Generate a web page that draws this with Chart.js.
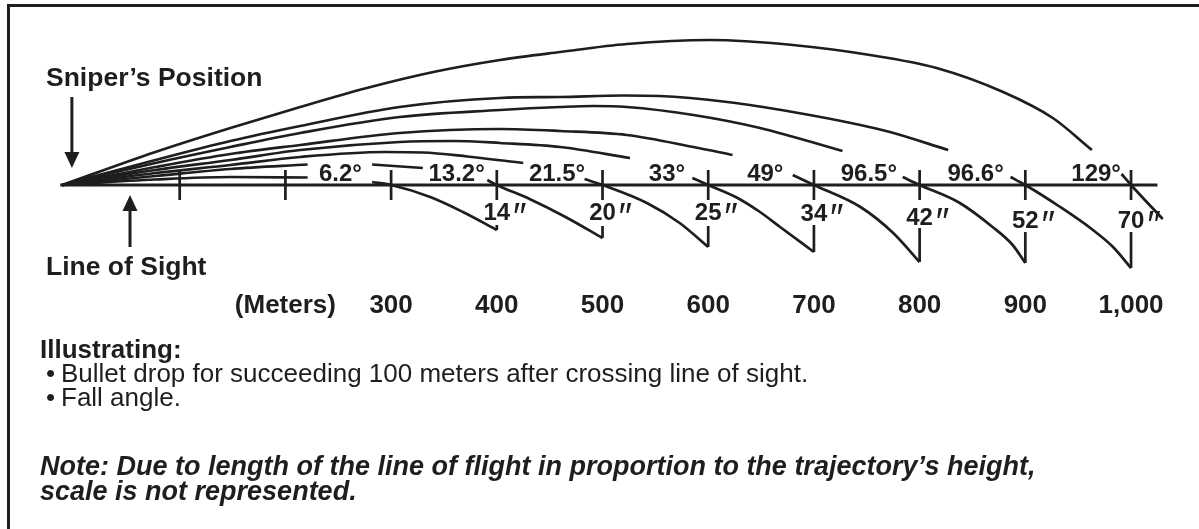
<!DOCTYPE html>
<html>
<head>
<meta charset="utf-8">
<script src="https://cdn.jsdelivr.net/npm/chart.js@4.4.1/dist/chart.umd.min.js"></script>
<style>
html,body{margin:0;padding:0;background:#fff;}
#wrap{position:relative;width:1199px;height:529px;overflow:hidden;background:#fff;
  font-family:"Liberation Sans",Arial,Helvetica,sans-serif;color:#1e1e1e;}
#frame{position:absolute;left:7px;top:4px;width:1400px;height:800px;
  border-top:3px solid #1e1e1e;border-left:3px solid #1e1e1e;}
#cv{position:absolute;left:0;top:0;width:1199px;height:529px;}
.t{position:absolute;white-space:nowrap;font-size:26px;line-height:26px;}
.b{font-weight:bold;}
.h{font-weight:bold;font-size:26.5px;}
.bi{font-weight:bold;font-style:italic;font-size:27px;}
.bul{display:inline-block;width:15px;}
</style>
</head>
<body>
<div id="wrap">
  <div id="frame"></div>
  <div id="cv"><canvas id="c"></canvas></div>
  <div class="t h" style="left:46px;top:64px">Sniper’s Position</div>
  <div class="t h" style="left:46px;top:253px">Line of Sight</div>
  <div class="t b" style="left:40px;top:336px">Illustrating:</div>
  <div class="t" style="left:46px;top:360px"><span class="bul">•</span>Bullet drop for succeeding 100 meters after crossing line of sight.</div>
  <div class="t" style="left:46px;top:384px"><span class="bul">•</span>Fall angle.</div>
  <div class="t bi" style="left:40px;top:453px">Note: Due to length of the line of flight in proportion to the trajectory’s height,</div>
  <div class="t bi" style="left:40px;top:478px">scale is not represented.</div>
</div>
<script>
// ---------- data (range in meters, height in drawing units above line of sight) ----------
const crossRanges = [300, 400, 500, 600, 700, 800, 900, 1000];
const fallAngles  = ['6.2°', '13.2°', '21.5°', '33°', '49°', '96.5°', '96.6°', '129°'];
const dropRanges  = [400, 500, 600, 700, 800, 900, 1000];
const dropInches  = ['14', '20', '25', '34', '42', '52', '70'];
const dropDepth   = [-45, -53, -62, -67, -77, -78, -83];
const tickValues  = [200, 300, 400, 500, 600, 700, 800, 900, 1000];
const tickLabels  = ['(Meters)', '300', '400', '500', '600', '700', '800', '900', '1,000'];
const sightMarks  = [100, 200, 300, 400, 500, 600, 700, 800, 900, 1000];
const sightLine   = [[-13, 0], [1025, 0]];

// trajectories; a null height = hidden behind a label
const traj300  = [[-11,0],[77,5.5],[148,8],[221,7.5],[250,null],[282,3],[300,0],[337,-12],[368,-27],[400,-45]];
const traj400  = [[-11,0],[77,9],[148,16],[221,20.5],[250,null],[282,20.5],[330,17],[360,null],[391,5],[400,0],[431,-14],[465,-32],[500,-53]];
const traj500  = [[-11,0],[77,12],[148,20],[214,28],[294,33],[330,32.5],[372,28.5],[425,22],[455,null],[483,6],[500,0],[542,-18],[573,-38],[600,-62]];
const traj600  = [[-11,0],[77,15],[148,25],[214,35],[308,43],[358,44],[403,42],[460,38],[526,27],[555,null],[585,7],[600,0],[626,-12],[649,-27],[668,-42],[700,-67]];
const traj700  = [[-11,0],[77,18],[148,31],[214,40],[308,52],[403,56],[460,54],[523,50],[586,38],[623,30],[650,null],[680,10],[700,0],[744,-22],[775,-48],[800,-77]];
const traj800  = [[-11,0],[77,22],[148,38],[214,52],[308,68],[403,75],[460,78],[491,79],[523,78],[586,70],[649,57],[727,34],[755,null],[784,8],[800,0],[838,-18],[869,-42],[888,-60],[900,-78]];
const traj900  = [[-11,0],[77,25],[148,44],[214,59],[308,78],[403,87],[460,88],[520,89.5],[554,89],[618,83],[680,73],[744,60],[772,53],[827,35],[855,null],[886,8],[900,0],[933,-22],[964,-45],[983,-62],[1000,-83]];
const traj1000 = [[-11,0],[77,33],[148,57],[214,78],[277,97],[340,113],[403,125],[460,133],[523,141],[602,145],[680,140],[753,130],[816,117],[879,93],[926,67],[963,35],[978,null],[991,11],[1000,0],[1030,-34]];
const trajectories = [traj300, traj400, traj500, traj600, traj700, traj800, traj900, traj1000];

// ---------- layout / style (not data) ----------
const INK = '#1e1e1e';
const FONT = '"Liberation Sans", Arial, Helvetica, sans-serif';
const LAYOUT = {
  xMin: -70, xMax: 1064.3, yMin: -95, yMax: 185,
  angleLabelX: [252, 362, 457, 561, 654, 752, 853, 967],
  angleLabelBase: 4,
  dropLabelBase: [-35, -35, -35, -36, -40, -43, -43],
  dropLineTop: [-40, -41, -41, -40, -43, -47, -47],
  markHalf: 15,
  arrows: [ {x: -2, tail: 88, tip: 17}, {x: 53, tail: -62, tip: -10} ]
};

const pts = arr => arr.map(([x, y]) => ({x, y}));
const datasets = [];
trajectories.forEach(t => datasets.push({
  data: pts(t), borderColor: INK, borderWidth: 2.7, pointRadius: 0,
  showLine: true, cubicInterpolationMode: 'monotone', spanGaps: false
}));
datasets.push({ data: pts(sightLine), borderColor: INK, borderWidth: 3, pointRadius: 0, showLine: true });
datasets.push({
  data: sightMarks.flatMap(m => [{x:m, y:LAYOUT.markHalf}, {x:m, y:-LAYOUT.markHalf}, {x:m, y:null}]),
  borderColor: INK, borderWidth: 2.7, pointRadius: 0, showLine: true, spanGaps: false
});
datasets.push({
  data: dropRanges.flatMap((m, i) => [{x:m, y:LAYOUT.dropLineTop[i]}, {x:m, y:dropDepth[i]}, {x:m, y:null}]),
  borderColor: INK, borderWidth: 2.7, pointRadius: 0, showLine: true, spanGaps: false
});

const annotations = {
  id: 'annotations',
  afterDatasetsDraw(chart) {
    const {ctx, scales: {x, y}} = chart;
    ctx.save();
    ctx.fillStyle = INK; ctx.strokeStyle = INK;
    // fall angles
    ctx.font = 'bold 24px ' + FONT;
    ctx.textAlign = 'center'; ctx.textBaseline = 'alphabetic';
    fallAngles.forEach((t, i) => ctx.fillText(t, x.getPixelForValue(LAYOUT.angleLabelX[i]), y.getPixelForValue(LAYOUT.angleLabelBase)));
    // drops
    dropInches.forEach((t, i) => {
      const px = x.getPixelForValue(dropRanges[i]);
      const py = y.getPixelForValue(LAYOUT.dropLabelBase[i]);
      ctx.font = 'bold 24px ' + FONT; ctx.textAlign = 'center';
      ctx.fillText(t, px, py);
      const w = ctx.measureText(t).width;
      ctx.font = 'italic 38px ' + FONT; ctx.textAlign = 'left';
      ctx.fillText('″', px + w / 2 + 1, py + 10);
    });
    // arrows
    LAYOUT.arrows.forEach(a => {
      const px = x.getPixelForValue(a.x), pt = y.getPixelForValue(a.tail), pp = y.getPixelForValue(a.tip);
      const dir = Math.sign(pp - pt), hl = 16, hw = 7.5;
      ctx.lineWidth = 3;
      ctx.beginPath(); ctx.moveTo(px, pt); ctx.lineTo(px, pp - dir * hl); ctx.stroke();
      ctx.beginPath(); ctx.moveTo(px, pp); ctx.lineTo(px - hw, pp - dir * hl); ctx.lineTo(px + hw, pp - dir * hl); ctx.closePath(); ctx.fill();
    });
    ctx.restore();
  }
};

new Chart(document.getElementById('c'), {
  type: 'scatter',
  data: { datasets },
  plugins: [annotations],
  options: {
    responsive: true, maintainAspectRatio: false, animation: false,
    layout: { padding: 0 },
    plugins: { legend: {display: false}, tooltip: {enabled: false} },
    elements: { line: { tension: 0 } },
    scales: {
      x: {
        type: 'linear', min: LAYOUT.xMin, max: LAYOUT.xMax, bounds: 'data',
        grid: { display: false, drawTicks: false }, border: { display: false },
        afterBuildTicks: axis => { axis.ticks = tickValues.map(v => ({value: v})); },
        afterFit: axis => { axis.height = 249; },
        ticks: {
          autoSkip: false, maxRotation: 0, minRotation: 0, padding: 10, color: INK,
          font: { family: FONT, size: 26, weight: 'bold', lineHeight: 1.2 },
          callback: v => { const i = tickValues.indexOf(v); return i >= 0 ? tickLabels[i] : ''; }
        }
      },
      y: { type: 'linear', display: false, min: LAYOUT.yMin, max: LAYOUT.yMax }
    }
  }
});
</script>
</body>
</html>
